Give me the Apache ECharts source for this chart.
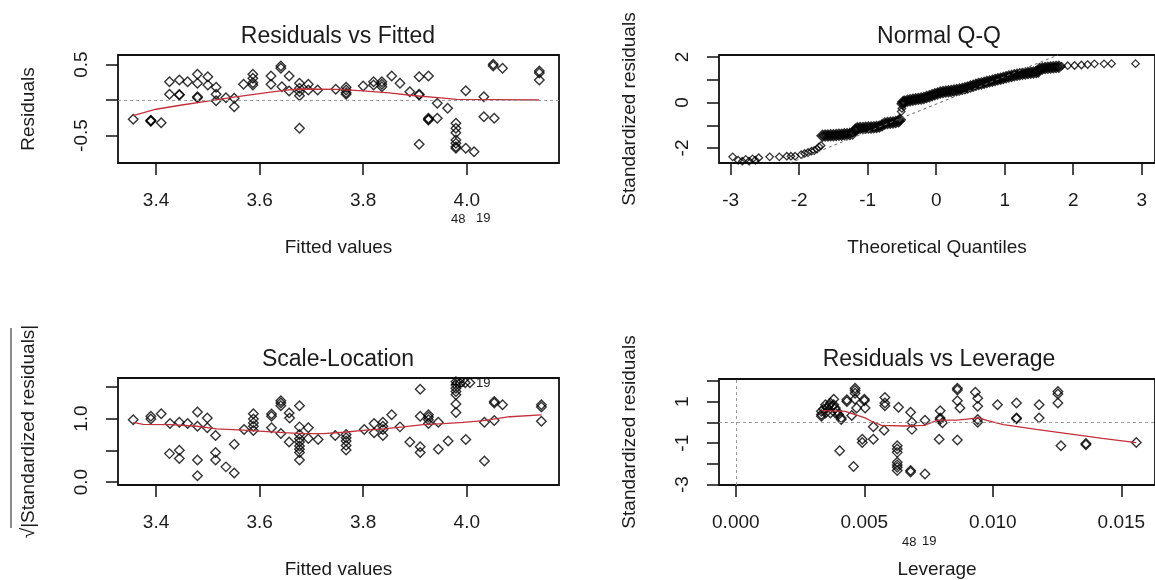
<!DOCTYPE html>
<html>
<head>
<meta charset="utf-8">
<title>lm diagnostic plots</title>
<script src="https://cdn.jsdelivr.net/npm/echarts@6/dist/echarts.min.js"></script>
<style>
  html, body { margin: 0; padding: 0; background: #fff; }
  #chart { width: 1155px; height: 580px; }
</style>
</head>
<body>
<div id="chart"></div>
<script>
// Residuals vs Fitted: [fitted, residual]
const rvfPoints = [
  [3.356,-0.272],[3.390,-0.292],[3.390,-0.300],[3.390,-0.285],[3.410,-0.320],
  [3.426,0.258],[3.426,0.080],[3.445,0.282],[3.445,0.070],[3.445,0.078],[3.461,0.258],
  [3.480,0.362],[3.480,0.235],[3.480,0.032],[3.480,0.045],[3.500,0.328],[3.500,0.211],
  [3.516,0.179],[3.516,0.080],[3.516,-0.010],[3.535,0.032],[3.551,0.024],[3.551,-0.094],
  [3.569,0.221],[3.587,0.362],[3.587,0.306],[3.587,0.244],[3.587,0.211],
  [3.622,0.338],[3.622,0.221],[3.641,0.479],[3.641,0.446],[3.643,0.187],
  [3.657,0.338],[3.657,0.127],[3.677,0.235],[3.677,0.165],[3.677,0.117],[3.677,0.061],[3.677,-0.399],
  [3.694,0.221],[3.694,0.141],[3.712,0.141],[3.747,0.151],
  [3.767,0.179],[3.767,0.141],[3.767,0.103],[3.767,0.080],[3.800,0.197],
  [3.820,0.258],[3.820,0.211],[3.836,0.258],[3.836,0.221],[3.836,0.187],[3.855,0.338],[3.871,0.235],[3.890,0.117],
  [3.908,0.328],[3.908,0.080],[3.908,0.070],[3.908,-0.624],
  [3.926,0.338],[3.926,-0.258],[3.926,-0.282],[3.926,-0.270],[3.943,-0.046],[3.943,-0.258],[3.963,-0.117],
  [3.979,-0.328],[3.979,-0.399],[3.979,-0.461],[3.979,-0.563],[3.979,-0.610],[3.979,-0.658],[3.979,-0.680],
  [3.998,0.131],[3.998,-0.680],[4.014,-0.728],[4.033,0.046],[4.033,-0.235],
  [4.051,0.503],[4.051,0.479],[4.053,-0.258],[4.069,0.446],
  [4.140,0.408],[4.140,0.380],[4.140,0.282]
];
const rvfSmooth = [
  [3.356,-0.22],[3.40,-0.13],[3.45,-0.07],[3.50,-0.015],[3.55,0.04],[3.60,0.09],[3.65,0.14],[3.68,0.155],
  [3.75,0.15],[3.80,0.13],[3.85,0.10],[3.90,0.06],[3.95,0.03],[3.98,0.01],[4.05,0.005],[4.14,0.0]
];

// Normal Q-Q: [theoretical quantile, standardized residual]
// sparse tails
const qqTails = [
  [-2.97,-2.39],[-2.89,-2.54],[-2.83,-2.58],[-2.78,-2.50],[-2.73,-2.58],[-2.68,-2.48],[-2.64,-2.54],[-2.59,-2.43],
  [-2.43,-2.39],[-2.29,-2.39],[-2.18,-2.36],[-2.12,-2.36],[-2.06,-2.36],[-1.97,-2.29],[-1.92,-2.24],[-1.87,-2.20],
  [-1.82,-2.14],[-1.78,-2.11],[-1.74,-2.05],[-1.71,-1.95],[-1.68,-1.89],
  [-0.51,-0.40],[-0.50,-0.26],
  [1.83,1.60],[1.92,1.62],[2.02,1.63],[2.12,1.65],[2.21,1.67],[2.31,1.70],[2.45,1.70],[2.56,1.71],[2.91,1.71]
];
// dense middle run
const qqBand = [
  [-1.66,-1.46],[-1.62,-1.45],[-1.58,-1.45],[-1.54,-1.44],[-1.50,-1.44],[-1.46,-1.43],[-1.42,-1.42],[-1.38,-1.42],
  [-1.34,-1.40],[-1.30,-1.39],[-1.26,-1.38],[-1.22,-1.36],[-1.18,-1.20],[-1.15,-1.13],[-1.11,-1.12],[-1.07,-1.12],
  [-1.03,-1.11],[-0.99,-1.10],[-0.95,-1.10],[-0.91,-1.09],[-0.87,-1.08],[-0.83,-1.06],[-0.79,-1.00],[-0.75,-0.92],
  [-0.71,-0.90],[-0.67,-0.89],[-0.63,-0.88],[-0.59,-0.86],[-0.55,-0.82],[-0.53,-0.76],
  [-0.49,-0.05],[-0.48,0.02],
  [-0.46,0.04],[-0.42,0.08],[-0.38,0.10],[-0.34,0.12],[-0.30,0.14],[-0.26,0.16],[-0.22,0.18],[-0.18,0.20],
  [-0.14,0.24],[-0.10,0.28],[-0.06,0.32],[-0.02,0.36],[0.02,0.40],[0.06,0.44],[0.10,0.46],[0.14,0.48],
  [0.18,0.50],[0.22,0.51],[0.26,0.53],[0.30,0.55],[0.34,0.57],[0.38,0.60],[0.42,0.63],[0.46,0.66],
  [0.50,0.70],[0.54,0.74],[0.58,0.78],[0.62,0.81],[0.66,0.84],[0.70,0.87],[0.74,0.90],[0.78,0.93],
  [0.82,0.96],[0.86,0.99],[0.90,1.02],[0.94,1.05],[0.98,1.08],[1.02,1.11],[1.06,1.14],[1.10,1.17],
  [1.14,1.20],[1.18,1.22],[1.22,1.24],[1.26,1.26],[1.30,1.28],[1.34,1.30],[1.38,1.31],[1.42,1.32],
  [1.46,1.34],[1.49,1.36],
  [1.51,1.48],[1.55,1.50],[1.59,1.52],[1.63,1.53],[1.67,1.54],[1.71,1.55],[1.75,1.56],[1.79,1.57]
];
const qqLine = [[-2.135,-2.66],[1.78,2.09]];

// Scale-Location: [fitted, sqrt(|standardized residual|)]
const slPoints = [
  [3.356,0.984],[3.390,1.036],[3.390,0.995],[3.410,1.078],[3.427,0.922],[3.426,0.448],
  [3.445,0.942],[3.445,0.500],[3.445,0.370],[3.461,0.922],
  [3.480,1.104],[3.480,0.880],[3.480,0.348],[3.480,0.098],
  [3.499,1.011],[3.499,0.855],[3.515,0.734],[3.515,0.464],[3.515,0.348],
  [3.535,0.239],[3.551,0.141],[3.551,0.594],[3.570,0.828],
  [3.588,1.078],[3.588,0.995],[3.588,0.933],[3.588,0.880],[3.588,0.813],
  [3.623,1.073],[3.623,1.036],[3.623,0.855],
  [3.641,1.281],[3.641,1.245],[3.641,1.203],[3.641,0.766],
  [3.657,1.089],[3.658,1.011],[3.657,0.630],
  [3.677,1.203],[3.677,0.870],[3.677,0.750],[3.677,0.683],[3.677,0.630],[3.677,0.567],[3.677,0.516],[3.677,0.464],[3.677,0.348],
  [3.694,0.855],[3.694,0.688],[3.713,0.672],[3.746,0.734],
  [3.767,0.750],[3.767,0.698],[3.767,0.646],[3.767,0.578],[3.767,0.505],
  [3.802,0.828],[3.821,0.922],[3.821,0.777],
  [3.838,0.942],[3.838,0.880],[3.838,0.828],[3.838,0.734],
  [3.855,1.063],[3.871,0.870],[3.890,0.630],
  [3.910,1.464],[3.910,1.036],[3.910,0.558],[3.910,0.464],
  [3.926,1.063],[3.926,1.026],[3.926,0.984],[3.926,0.922],
  [3.945,0.942],[3.945,0.516],[3.964,0.646],
  [3.979,1.583],[3.979,1.531],[3.979,1.480],[3.979,1.427],[3.979,1.375],[3.979,1.230],[3.979,1.098],
  [3.987,1.557],[3.997,1.567],[4.006,1.567],
  [3.998,0.672],[4.034,0.942],[4.034,0.333],
  [4.053,1.270],[4.053,1.245],[4.053,0.969],[4.069,1.219],
  [4.144,1.219],[4.144,1.183],[4.144,0.958]
];
const slSmooth = [
  [3.356,0.94],[3.375,0.91],[3.427,0.905],[3.479,0.88],[3.517,0.84],[3.569,0.82],[3.607,0.80],[3.646,0.78],
  [3.684,0.765],[3.723,0.765],[3.762,0.785],[3.800,0.815],[3.839,0.84],[3.877,0.87],[3.916,0.905],
  [3.955,0.92],[3.993,0.94],[4.032,0.97],[4.083,1.03],[4.144,1.06]
];

// Residuals vs Leverage: [leverage, standardized residual]
const rvlPoints = [
  [0.00333,0.540],[0.00333,0.381],[0.00333,0.302],[0.00342,0.651],[0.00349,0.857],[0.00355,0.698],
  [0.00362,0.810],[0.00368,0.937],[0.00374,0.778],[0.00381,0.857],[0.00387,0.698],[0.00394,0.540],
  [0.00400,0.381],[0.00349,0.460],[0.00368,0.460],[0.00387,0.460],[0.00381,1.127],
  [0.00410,0.222],[0.00410,0.143],[0.00404,-1.365],[0.00432,1.095],[0.00432,1.016],[0.00458,-2.127],
  [0.00464,1.651],[0.00464,1.540],[0.00464,1.413],[0.00464,1.127],[0.00470,0.698],[0.00451,0.333],
  [0.00500,1.127],[0.00500,1.048],[0.00503,0.698],[0.00492,-0.810],[0.00492,-0.968],
  [0.00535,-0.206],[0.00535,-0.810],[0.00580,1.206],[0.00580,0.937],[0.00580,0.810],[0.00577,-0.381],
  [0.00633,0.730],[0.00628,-1.127],[0.00628,-1.286],[0.00628,-1.444],[0.00628,-1.921],[0.00628,-2.048],
  [0.00628,-2.159],[0.00628,-2.317],[0.00680,0.492],[0.00680,-2.317],[0.00680,-2.397],
  [0.00685,0.016],[0.00685,-0.333],[0.00736,0.111],[0.00736,-2.492],
  [0.00795,0.571],[0.00795,0.222],[0.00795,0.143],[0.00804,-0.016],[0.00791,-0.810],
  [0.00862,1.651],[0.00862,1.571],[0.00862,1.048],[0.00872,0.698],[0.00862,-0.841],
  [0.00932,1.460],[0.00941,1.175],[0.00941,0.778],[0.00941,0.143],[0.00941,0.016],
  [0.01018,0.857],[0.01092,0.937],[0.01092,0.222],[0.01092,0.175],[0.01180,0.857],[0.01180,0.222],
  [0.01253,1.492],[0.01253,1.381],[0.01253,0.937],[0.01265,-1.127],
  [0.01362,-1.016],[0.01362,-1.079],[0.01558,-0.968]
];
const rvlSmooth = [
  [0.00333,0.57],[0.00426,0.54],[0.00464,0.38],[0.00503,0.22],[0.00528,0.06],[0.00567,-0.14],
  [0.00656,-0.17],[0.00733,-0.14],[0.00785,0.11],[0.00862,0.11],[0.00945,0.22],[0.00977,0.10],
  [0.01041,-0.10],[0.01169,-0.33],[0.01297,-0.55],[0.01426,-0.77],[0.01558,-0.97]
];

// axis ticks and labels
const fittedTicks = [3.4, 3.6, 3.8, 4.0];
const rvfYTicks = [-0.5, 0, 0.5];
const rvfYLabels = [-0.5, 0.5];
const qqXTicks = [-3, -2, -1, 0, 1, 2, 3];
const qqYTicks = [-2, -1, 0, 1, 2];
const qqYLabels = [-2, 0, 2];
const slYTicks = [0, 0.5, 1.0, 1.5];
const slYLabels = [0, 1.0];
const levTicks = [0, 0.005, 0.010, 0.015];
const rvlYTicks = [-3, -2, -1, 0, 1, 2];
const rvlYLabels = [-3, -1, 1];

const FONT = '"Liberation Sans", Arial, sans-serif';
const INK = '#1b1b1b';
const RED = '#c42f3c';

function xAxisFor(gi, min, max, ticks, labels, digits, name) {
  return {
    type: 'value', gridIndex: gi, min: min, max: max,
    name: name, nameLocation: 'middle', nameGap: 75,
    nameTextStyle: { fontFamily: FONT, fontSize: 19, color: INK },
    axisLine: { show: false, onZero: false },
    axisTick: { show: true, inside: false, length: 12, customValues: ticks,
      lineStyle: { color: '#111', width: 1.5 } },
    axisLabel: { show: true, customValues: labels, margin: 28, fontFamily: FONT, fontSize: 19, color: INK,
      formatter: v => Number(v).toFixed(digits) },
    splitLine: { show: false }
  };
}

function yAxisFor(gi, min, max, ticks, labels, digits, name) {
  return {
    type: 'value', gridIndex: gi, min: min, max: max,
    name: name, nameLocation: 'middle', nameGap: 80, nameRotate: 90,
    nameTextStyle: { fontFamily: FONT, fontSize: 19, color: INK },
    axisLine: { show: false, onZero: false },
    axisTick: { show: true, inside: false, length: 12, customValues: ticks,
      lineStyle: { color: '#111', width: 1.5 } },
    axisLabel: { show: true, customValues: labels, rotate: 90, margin: 27, fontFamily: FONT, fontSize: 19, color: INK,
      formatter: v => Number(v).toFixed(digits) },
    splitLine: { show: false }
  };
}

function pointSeries(gi, data, size, stroke, refLines) {
  const s = {
    type: 'scatter', xAxisIndex: gi, yAxisIndex: gi, data: data,
    symbol: 'diamond', symbolSize: size, z: 3,
    itemStyle: { color: 'rgba(0,0,0,0)', borderColor: '#000', borderWidth: stroke },
    emphasis: { disabled: true }
  };
  if (refLines) {
    s.markLine = {
      silent: true, symbol: 'none', label: { show: false },
      lineStyle: { color: '#9a9a9a', type: [3, 3], width: 1 },
      data: refLines
    };
  }
  return s;
}

function lineSeries(gi, data, color, dashed) {
  return {
    type: 'line', xAxisIndex: gi, yAxisIndex: gi, data: data,
    showSymbol: false, symbol: 'none', z: 4, clip: true,
    lineStyle: { color: color, width: dashed ? 1 : 1.3, type: dashed ? [3, 3] : 'solid' },
    emphasis: { disabled: true }
  };
}

function titleAt(text, x, y) {
  return { text: text, left: x, top: y, textAlign: 'center', padding: 0,
    textStyle: { fontFamily: FONT, fontSize: 23, fontWeight: 'normal', color: INK } };
}

function idText(text, x, y) {
  return { type: 'text', left: x, top: y,
    style: { text: text, fontFamily: FONT, fontSize: 13, fill: INK } };
}

const chart = echarts.init(document.getElementById('chart'));
chart.setOption({
  animation: false,
  backgroundColor: '#fff',
  title: [
    titleAt('Residuals vs Fitted', 338, 25),
    titleAt('Normal Q-Q', 939, 25),
    titleAt('Scale-Location', 338, 348),
    titleAt('Residuals vs Leverage', 939, 348)
  ],
  grid: [
    { left: 118, top: 55, width: 441, height: 108, show: true, borderColor: '#111', borderWidth: 1.8, backgroundColor: 'transparent' },
    { left: 719, top: 55, width: 441, height: 108, show: true, borderColor: '#111', borderWidth: 1.8, backgroundColor: 'transparent' },
    { left: 118, top: 378, width: 441, height: 108, show: true, borderColor: '#111', borderWidth: 1.8, backgroundColor: 'transparent' },
    { left: 719, top: 379, width: 441, height: 107, show: true, borderColor: '#111', borderWidth: 1.8, backgroundColor: 'transparent' }
  ],
  xAxis: [
    xAxisFor(0, 3.3266, 4.178, fittedTicks, fittedTicks, 1, 'Fitted values'),
    xAxisFor(1, -3.17, 3.194, qqXTicks, qqXTicks, 0, 'Theoretical Quantiles'),
    xAxisFor(2, 3.3266, 4.178, fittedTicks, fittedTicks, 1, 'Fitted values'),
    xAxisFor(3, -0.000654, 0.016308, levTicks, levTicks, 3, 'Leverage')
  ],
  yAxis: [
    yAxisFor(0, -0.887, 0.634, rvfYTicks, rvfYLabels, 1, 'Residuals'),
    yAxisFor(1, -2.66, 2.09, qqYTicks, qqYLabels, 0, 'Standardized residuals'),
    yAxisFor(2, -0.047, 1.641, slYTicks, slYLabels, 1, '\u221A|Standardized residuals|'),
    yAxisFor(3, -3.02, 2.1, rvlYTicks, rvlYLabels, 0, 'Standardized residuals')
  ],
  series: [
    pointSeries(0, rvfPoints, 9.5, 1.4, [{ yAxis: 0 }]),
    lineSeries(0, rvfSmooth, RED, false),
    pointSeries(1, qqTails, 7.5, 1.3, null),
    pointSeries(1, qqBand, 9, 2.8, null),
    lineSeries(1, qqLine, '#6a6a6a', true),
    pointSeries(2, slPoints, 9.5, 1.4, null),
    lineSeries(2, slSmooth, RED, false),
    pointSeries(3, rvlPoints, 9.5, 1.4, [{ yAxis: 0 }, { xAxis: 0 }]),
    lineSeries(3, rvlSmooth, RED, false)
  ],
  graphic: [
    idText('48', 451, 213),
    idText('19', 476, 212),
    idText('48', 451, 377),
    idText('19', 476, 377),
    idText('48', 902, 536),
    idText('19', 922, 535),
    { type: 'line', shape: { x1: 11, y1: 328, x2: 11, y2: 528 }, style: { stroke: INK, lineWidth: 1 } }
  ]
});
</script>
</body>
</html>
